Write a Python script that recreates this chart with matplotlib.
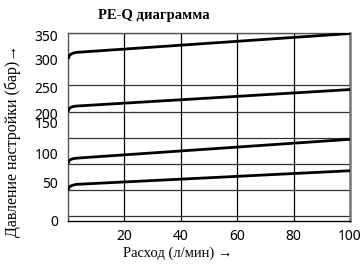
import numpy as np
import matplotlib
matplotlib.use("Agg")
import matplotlib.pyplot as plt

# расход, л/мин (точки)
flow = [0, 0.4, 1.0, 1.8, 3.0, 100]

# давление для четырёх настроек, бар
p300 = [300, 306, 309.5, 311.5, 313, 349]
p200 = [200, 205.5, 208, 209.5, 210.5, 242]
p100 = [100.5, 106, 108.5, 110, 111, 147]
p50 = [50, 55.5, 58, 59.5, 61, 87]

x_ticks = [20, 40, 60, 80, 100]
y_grid = [0, 50, 100, 150, 200, 250, 300, 350]
y_labels = ["0", "50", "100", "150", "200", "250", "300", "350"]
# where the labels actually sit on the reference axis
y_label_pos = [-9, 65, 119, 180, 196, 245, 300, 346]

serif = ["Liberation Serif", "DejaVu Serif"]

fig = plt.figure(figsize=(3.64, 2.64), dpi=100)
ax = fig.add_axes([68 / 364, 1 - 221 / 264, 282 / 364, 188 / 264])

for p in [p300, p200, p100, p50]:
    ax.plot(flow, p, color="black", lw=2, solid_capstyle="butt", zorder=3)

ax.set_xlim(0, 100)
ax.set_ylim(0, 350)

ax.set_xticks(x_ticks)
ax.set_xticklabels([str(v) for v in x_ticks], family="Noto Sans", fontsize=10)
ax.set_yticks(y_label_pos)
ax.set_yticklabels(y_labels, family="Noto Sans", fontsize=10)
ax.set_yticks(y_grid, minor=True)
ax.tick_params(axis="both", which="both", length=0)
ax.tick_params(axis="y", pad=7)
ax.tick_params(axis="x", pad=6)

ax.grid(False)
ax.grid(True, axis="x", which="major", color="black", lw=0.9)
ax.grid(True, axis="y", which="minor", color="#333333", lw=0.9)

for s in ["left", "top"]:
    ax.spines[s].set_color("#555555")
    ax.spines[s].set_linewidth(1.0)
ax.spines["bottom"].set_color("black")
ax.spines["bottom"].set_linewidth(1.0)
ax.spines["right"].set_color("#777777")
ax.spines["right"].set_linewidth(1.8)

fig.text(154 / 364, 1 - 15 / 264, "PE-Q диаграмма", family=serif,
         fontsize=10.5, fontweight="bold", ha="center", va="center")
fig.text(178 / 364, 1 - 253 / 264, "Расход (л/мин) →", family=serif,
         fontsize=10.5, ha="center", va="center")
fig.text(13 / 364, 1 - 141 / 264, "Давление настройки (бар)→", family=serif,
         fontsize=11.5, ha="center", va="center", rotation=90)

fig.savefig("out.png", dpi=100)
